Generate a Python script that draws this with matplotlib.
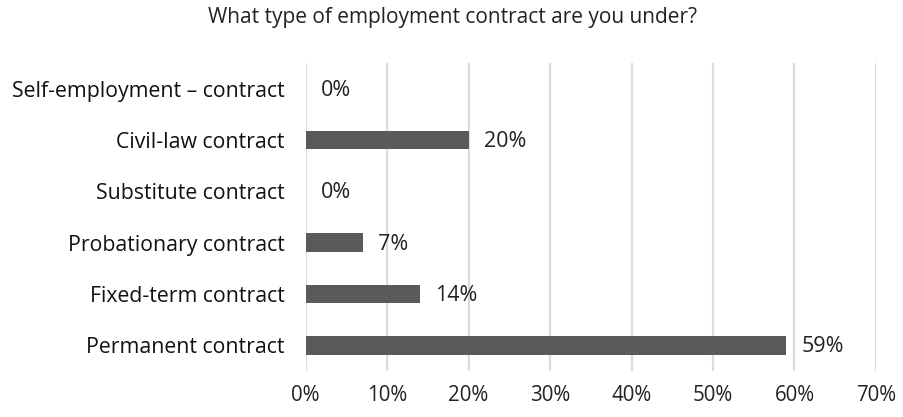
import numpy as np
import matplotlib.pyplot as plt

# survey answers, bottom to top
categories = [
    "Permanent contract",
    "Fixed-term contract",
    "Probationary contract",
    "Substitute contract",
    "Civil-law contract",
    "Self-employment \u2013 contract",
]
shares = [59, 14, 7, 0, 20, 0]
xticks = [0, 10, 20, 30, 40, 50, 60, 70]

plt.rcParams['font.family'] = ['Open Sans', 'DejaVu Sans']

fig = plt.figure(figsize=(9.04, 4.17), dpi=100)
ax = fig.add_axes([0.338, 0.110, 0.631, 0.739])

y = np.arange(len(categories))
ax.barh(y, shares, height=0.36, color='#5a5a5a', linewidth=0, zorder=3)

for yi, v in zip(y, shares):
    ax.annotate(f"{v}%", (v, yi), xytext=(11, -1), textcoords='offset points',
                ha='left', va='center', fontsize=15.5, color='#222222')

ax.set_xlim(0, 70)
ax.set_ylim(-0.5, len(categories) - 0.5)
ax.set_xticks(xticks)
ax.set_xticklabels([f"{t}%" for t in xticks], fontsize=14.8, color='#222222')
ax.set_yticks(y)
ax.set_yticklabels(categories, fontsize=15.3, color='#111111')
ax.tick_params(axis='x', length=0, pad=10)
ax.tick_params(axis='y', length=0, pad=15)
ax.grid(axis='x', color='#dcdcdc', linewidth=1.6, zorder=0)
for s in ax.spines.values():
    s.set_visible(False)

fig.text(0.501, 0.958, "What type of employment contract are you under?",
         ha='center', va='center', fontsize=15, color='#222222')

fig.savefig("out.png", dpi=100)
